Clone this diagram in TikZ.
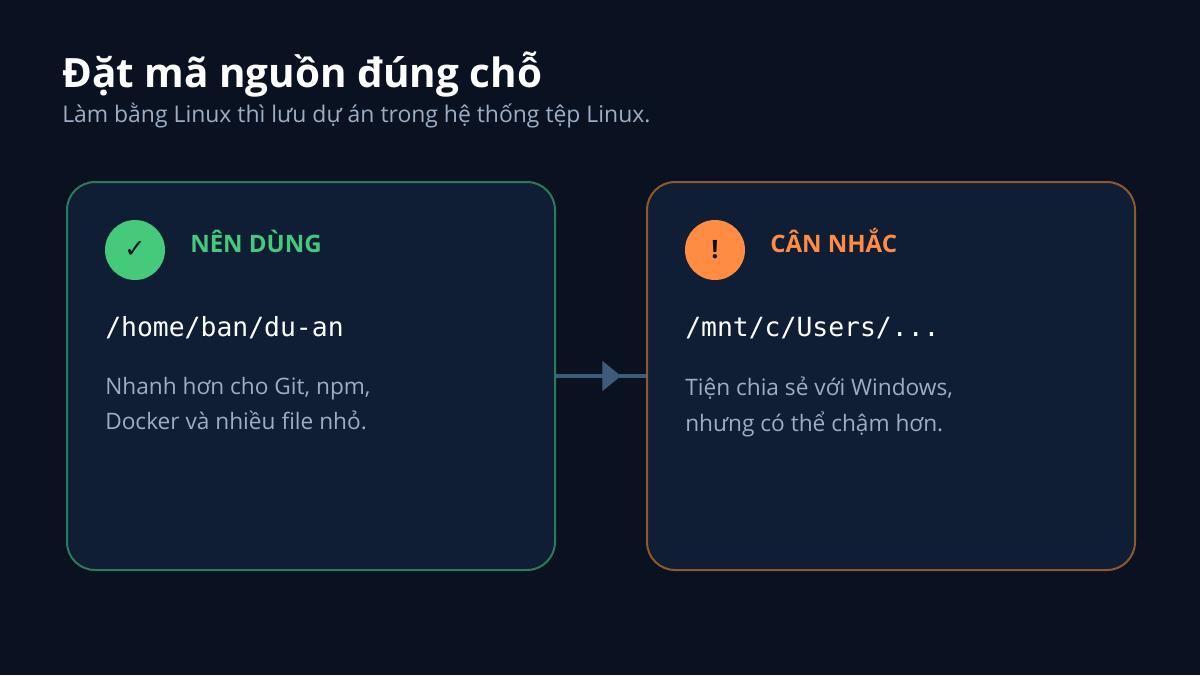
\documentclass[tikz,border=0pt]{standalone}
\usepackage{fontspec}
\setmainfont{Open Sans}
\setmonofont{DejaVu Sans Mono}
\newfontfamily\symfont{DejaVu Sans}
\usetikzlibrary{arrows.meta, positioning}
\definecolor{bgdark}{HTML}{0A1222}
\definecolor{cardbg}{HTML}{0F1E34}
\definecolor{okgreen}{HTML}{45C97A}
\definecolor{okborder}{HTML}{2B7A58}
\definecolor{warnorange}{HTML}{FF8C42}
\definecolor{warnborder}{HTML}{8E5A2C}
\definecolor{mutedtext}{HTML}{9DAEC4}
\definecolor{linkblue}{HTML}{3E5C7A}
\begin{document}
\begin{tikzpicture}[
    x=0.75pt, y=-0.75pt,
    card/.style={draw, line width=1.5pt, fill=cardbg, rounded corners=21pt, minimum width=366pt, minimum height=291pt, anchor=north west},
    badge/.style={circle, minimum size=45pt, inner sep=0pt, text=bgdark, font=\fontsize{19}{19}\selectfont\bfseries},
    heading/.style={anchor=west, inner sep=0pt, font=\fontsize{18}{18}\selectfont\bfseries},
    pathtext/.style={anchor=west, inner sep=0pt, text=white, font=\ttfamily\fontsize{19.8}{19.8}\selectfont},
    desc/.style={anchor=north west, inner sep=0pt, text=mutedtext, align=left, font=\fontsize{17}{26.5}\selectfont}
]
% Background
\fill[bgdark] (0,0) rectangle (1200,675);
\useasboundingbox (0,0) rectangle (1200,675);

% Title
\node[anchor=west, inner sep=0pt, text=white, font=\fontsize{30.3}{30.3}\selectfont\bfseries] (title) at (62,75) {Đặt mã nguồn đúng chỗ};
\node[anchor=west, inner sep=0pt, text=mutedtext, font=\fontsize{17.2}{17.2}\selectfont] (subtitle) at (62,116) {Làm bằng Linux thì lưu dự án trong hệ thống tệp Linux.};

% Cards
\node[card, draw=okborder] (good) at (66,181) {};
\node[card, draw=warnborder] (warn) at (646,181) {};

% Good card
\node[badge, fill=okgreen] (goodicon) at (135,250) {\symfont ✓};
\node[heading, text=okgreen] (goodhead) at (190,241) {NÊN DÙNG};
\node[pathtext] (goodpath) at (105,328) {/home/ban/du-an};
\node[desc] (gooddesc) at (105,377) {Nhanh hơn cho Git, npm,\\Docker và nhiều file nhỏ.};

% Warn card
\node[badge, fill=warnorange] (warnicon) at (715,250) {!};
\node[heading, text=warnorange] (warnhead) at (770,241) {CÂN NHẮC};
\node[pathtext] (warnpath) at (685,328) {/mnt/c/Users/...};
\node[desc] (warndesc) at (685,377) {Tiện chia sẻ với Windows,\\nhưng có thể chậm hơn.};

% Connector
\draw[linkblue, line width=3pt, -{Triangle[length=14pt, width=22pt]}] (good.east |- 0,376) -- (621,376);
\draw[linkblue, line width=3pt] (619,376) -- (warn.west |- 0,376);
\end{tikzpicture}
\end{document}
